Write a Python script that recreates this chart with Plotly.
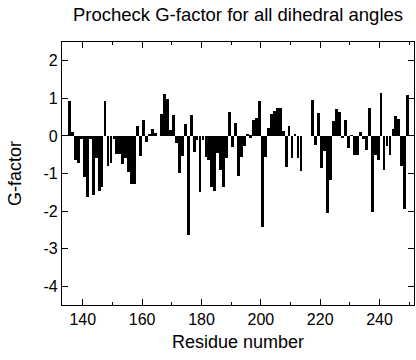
import plotly.graph_objects as go

first_residue = 135
g_factor = [
    0.92, 0.10, -0.65, -0.72, -0.08, -1.10, -1.63, -0.08, -1.56, -0.60,   # 135-144
    -1.47, -1.37, 0.92, -0.79, -0.72, -0.08, -0.48, -0.48, -0.76, -0.60,  # 145-154
    -0.95, -1.27, -1.27, 0.26, -0.53, 0.43, -0.15, 0.05, 0.18, 0.08,      # 155-164
    0.00, 0.59, 1.11, 0.97, 0.16, 0.55, -0.18, -0.98, -0.53, 0.33,        # 165-174
    -2.65, 0.57, -0.43, -0.10, -1.48, -0.12, -0.56, -0.63, -1.35, -1.46,  # 175-184
    -0.46, -0.90, -1.35, -0.60, 0.63, -0.30, 0.35, -1.07, -0.57, -0.27,   # 185-194
    0.04, -0.05, 0.42, 0.49, 0.92, -2.43, -0.55, 0.20, 0.58, 0.67,        # 195-204
    0.75, 0.75, 0.14, -0.82, 0.27, -0.59, 0.04, -0.59, -0.94, None,       # 205-214
    None, None, 0.95, -0.23, 0.61, -0.85, -0.40, -2.06, -1.18, 0.40,      # 215-224
    0.71, 0.64, -0.06, 0.42, -0.31, 0.02, -0.50, -0.50, 0.11, -0.09,      # 225-234
    -0.37, 0.75, -2.03, -0.50, -0.65, 1.14, -0.92, -0.28, -0.50, 0.18,    # 235-244
    0.53, 0.44, -0.81, -1.95, 1.10,                                       # 245-249
]
residues = list(range(first_residue, first_residue + len(g_factor)))

x_tick_values = [140, 160, 180, 200, 220, 240]
x_tick_labels = ["140", "160", "180", "200", "220", "240"]
y_tick_values = [-4, -3, -2, -1, 0, 1, 2]
y_tick_labels = ["-4", "-3", "-2", "-1", "0", "1", "2"]

title_text = "Procheck G-factor for all dihedral angles"
x_title = "Residue number"
y_title = "G-factor"

font_family = "Liberation Sans, Arial, Helvetica, sans-serif"

fig = go.Figure(
    go.Bar(
        x=residues,
        y=g_factor,
        width=0.96,
        offset=0.02,
        marker=dict(color="black", line=dict(width=0)),
        hoverinfo="x+y",
    )
)

fig.update_layout(
    width=416,
    height=360,
    margin=dict(l=62, r=2, t=42, b=55, autoexpand=False),
    paper_bgcolor="white",
    plot_bgcolor="white",
    showlegend=False,
    bargap=0,
    font=dict(family=font_family, color="black", size=16),
    title=dict(
        text=title_text,
        xref="container", x=238 / 416, xanchor="center",
        yref="container", y=1 - 15 / 360, yanchor="middle",
        font=dict(size=18.5, family=font_family, color="black"),
    ),
)

fig.update_xaxes(
    range=[133.0, 251.6],
    tickmode="array", tickvals=x_tick_values, ticktext=x_tick_labels,
    ticks="inside", ticklen=6, tickwidth=1, tickcolor="black",
    minor=dict(ticks="inside", dtick=10, tick0=130, ticklen=3, tickwidth=1, tickcolor="black"),
    showline=True, linecolor="black", linewidth=1.2, mirror="ticks",
    showgrid=False, zeroline=False, automargin=False,
    tickfont=dict(size=16),
    title=dict(text=x_title, font=dict(size=18), standoff=8),
)

fig.update_yaxes(
    range=[-4.5, 2.5],
    tickmode="array", tickvals=y_tick_values, ticktext=y_tick_labels,
    ticks="inside", ticklen=6, tickwidth=1, tickcolor="black",
    showline=True, linecolor="black", linewidth=1.2, mirror="ticks",
    showgrid=False, zeroline=False, automargin=False,
    tickfont=dict(size=16),
    title=dict(text=y_title, font=dict(size=18), standoff=17),
)

fig.write_html(
    "out.html",
    config={"displayModeBar": False},
    post_script="document.body.style.margin='0';",
)
